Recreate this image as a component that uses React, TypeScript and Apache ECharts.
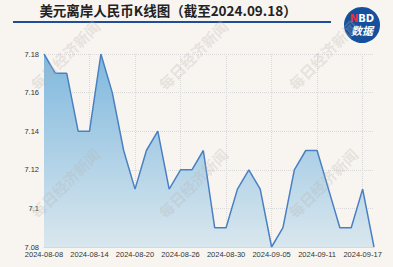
import React, { useEffect, useRef } from "react";
import * as echarts from "echarts";

const dates = [
  "2024-08-08", "2024-08-09", "2024-08-12", "2024-08-13", "2024-08-14",
  "2024-08-15", "2024-08-16", "2024-08-19", "2024-08-20", "2024-08-21",
  "2024-08-22", "2024-08-23", "2024-08-26", "2024-08-27", "2024-08-28",
  "2024-08-29", "2024-08-30", "2024-09-02", "2024-09-03", "2024-09-04",
  "2024-09-05", "2024-09-06", "2024-09-09", "2024-09-10", "2024-09-11",
  "2024-09-12", "2024-09-13", "2024-09-16", "2024-09-17", "2024-09-18",
];

const rates = [
  7.18, 7.17, 7.17, 7.14, 7.14,
  7.18, 7.16, 7.13, 7.11, 7.13,
  7.14, 7.11, 7.12, 7.12, 7.13,
  7.09, 7.09, 7.11, 7.12, 7.11,
  7.08, 7.09, 7.12, 7.13, 7.13,
  7.11, 7.09, 7.09, 7.11, 7.08,
];

const yMin = 7.08;
const yMax = 7.18;
const yStep = 0.02;

const titleText = "美元离岸人民币K线图（截至2024.09.18）";
const watermarkText = "每日经济新闻";
const watermarkSpots = [
  [65, 55], [193, 55], [323, 55],
  [65, 183], [193, 183], [323, 183],
];

export default function App() {
  const ref = useRef<HTMLDivElement>(null);

  useEffect(() => {
    document.body.style.margin = "0";
    document.body.style.background = "#f8f5f0";
    if (!ref.current) return;
    const chart = echarts.init(ref.current, undefined, { renderer: "svg" });

    const watermarks = watermarkSpots.map(([x, y]) => ({
      type: "text",
      x,
      y,
      rotation: Math.PI / 4,
      z: 100,
      silent: true,
      style: {
        text: watermarkText,
        fill: "rgba(185,180,175,0.30)",
        font: "bold 15px 'Noto Sans CJK SC'",
        align: "center",
        verticalAlign: "middle",
      },
    }));

    chart.setOption({
      animation: false,
      backgroundColor: "#f8f5f0",
      grid: { left: 44, right: 19, top: 54, bottom: 20, containLabel: false },
      xAxis: {
        type: "category",
        data: dates,
        boundaryGap: false,
        axisLine: { show: true, lineStyle: { color: "#d8d8d8", width: 1 } },
        axisTick: { show: false },
        axisLabel: {
          interval: 3,
          hideOverlap: false,
          color: "#333",
          fontSize: 7.5,
          margin: 3,
          fontFamily: "'Liberation Sans', Arial, sans-serif",
        },
        splitLine: {
          show: true,
          interval: 3,
          lineStyle: { color: "#d9d9d9", type: "dotted", width: 1 },
        },
      },
      yAxis: {
        type: "value",
        min: yMin,
        max: yMax,
        interval: yStep,
        axisLine: { show: false },
        axisTick: { show: false },
        axisLabel: {
          color: "#333",
          fontSize: 7.5,
          margin: 5,
          fontFamily: "'Liberation Sans', Arial, sans-serif",
        },
        splitLine: {
          show: true,
          lineStyle: { color: "#d9d9d9", type: "dotted", width: 1 },
        },
      },
      series: [
        {
          type: "line",
          data: rates,
          symbol: "none",
          lineStyle: { color: "#4a80c2", width: 1.5 },
          areaStyle: {
            color: new echarts.graphic.LinearGradient(0, 0, 0, 1, [
              { offset: 0, color: "#7fb8de" },
              { offset: 1, color: "#d9e7ee" },
            ]),
            opacity: 1,
          },
        },
      ],
      graphic: [
        {
          type: "text",
          x: 168,
          y: 10,
          style: {
            text: titleText,
            fill: "#222",
            font: "bold 13.5px 'Noto Sans CJK SC'",
            align: "center",
            verticalAlign: "middle",
          },
        },
        {
          type: "rect",
          shape: { x: 13, y: 21, width: 318, height: 2 },
          style: { fill: "#1f4c9c" },
        },
        {
          type: "circle",
          shape: { cx: 362, cy: 25, r: 18 },
          style: { fill: "#15509f" },
        },
        {
          type: "text",
          x: 362,
          y: 18,
          style: {
            text: "{n|N}{b|BD}",
            align: "center",
            verticalAlign: "middle",
            rich: {
              n: { fill: "#e8313a", font: "bold 10px 'DejaVu Sans'" },
              b: { fill: "#fff", font: "bold 10px 'DejaVu Sans'" },
            },
          },
        },
        {
          type: "text",
          x: 362,
          y: 30,
          style: {
            text: "数据",
            fill: "#fff",
            font: "italic bold 11px 'Noto Sans CJK SC'",
            align: "center",
            verticalAlign: "middle",
          },
        },
        ...watermarks,
      ],
    });

    return () => chart.dispose();
  }, []);

  return <div ref={ref} style={{ width: 393, height: 267 }} />;
}
